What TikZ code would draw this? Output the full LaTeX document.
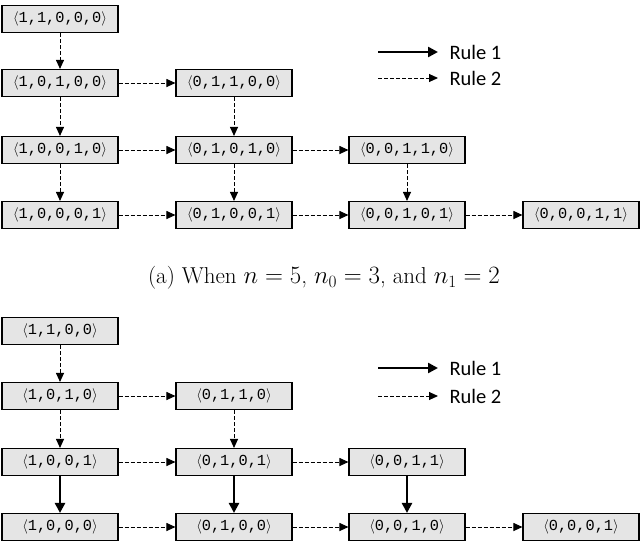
\documentclass[tikz,border=0pt]{standalone}
\usepackage{fontspec}
\newfontfamily\monof{Liberation Mono}
\newfontfamily\legf{Carlito}
\usetikzlibrary{arrows.meta}
\begin{document}
\begin{tikzpicture}[x=1pt,y=-1pt,
 box/.style={draw,line width=1.1pt,fill=gray!20,minimum width=116pt,minimum height=27pt,inner sep=0pt,font=\monof\fontsize{15.3}{17}\selectfont},
 r2/.style={-{Triangle[length=9pt,width=8pt]},dash pattern=on 4pt off 2pt,line width=1pt},
 r1/.style={-{Triangle[length=10pt,width=10pt]},line width=2.4pt},
 leg/.style={font=\legf\fontsize{20.5}{23}\selectfont,anchor=west}]
\useasboundingbox (0,0) rectangle (640,549);
\newcommand{\tp}[1]{$\langle$#1$\rangle$}
% (a)
\node[box] (a1) at (60,19) {\tp{1,1,0,0,0}};
\node[box] (a2) at (60,83) {\tp{1,0,1,0,0}};
\node[box] (a3) at (60,150) {\tp{1,0,0,1,0}};
\node[box] (a4) at (60,215) {\tp{1,0,0,0,1}};
\node[box] (b2) at (234,83) {\tp{0,1,1,0,0}};
\node[box] (b3) at (234,150) {\tp{0,1,0,1,0}};
\node[box] (b4) at (234,215) {\tp{0,1,0,0,1}};
\node[box] (c3) at (407,150) {\tp{0,0,1,1,0}};
\node[box] (c4) at (407,215) {\tp{0,0,1,0,1}};
\node[box] (d4) at (581,215) {\tp{0,0,0,1,1}};
\draw[r2] (a1)--(a2); \draw[r2] (a2)--(a3); \draw[r2] (a3)--(a4);
\draw[r2] (b2)--(b3); \draw[r2] (b3)--(b4); \draw[r2] (c3)--(c4);
\draw[r2] (a2)--(b2); \draw[r2] (a3)--(b3); \draw[r2] (b3)--(c3);
\draw[r2] (a4)--(b4); \draw[r2] (b4)--(c4); \draw[r2] (c4)--(d4);
\coordinate (la1) at (378,52); \coordinate (la1e) at (438,52);
\coordinate (la2) at (378,78); \coordinate (la2e) at (438,78);
\draw[r1] (la1)--(la1e); \draw[r2] (la2)--(la2e);
\node[leg] (ta1) at (446,52) {Rule 1};
\node[leg] (ta2) at (446,78) {Rule 2};
\node[font=\fontsize{23}{26}\selectfont] (capa) at (324,278) {(a) When $n=5$, $n_0=3$, and $n_1=2$};
% (b)
\node[box] (e1) at (60,331) {\tp{1,1,0,0}};
\node[box] (e2) at (60,396) {\tp{1,0,1,0}};
\node[box] (e3) at (60,462) {\tp{1,0,0,1}};
\node[box] (e4) at (60,527) {\tp{1,0,0,0}};
\node[box] (f2) at (234,396) {\tp{0,1,1,0}};
\node[box] (f3) at (234,462) {\tp{0,1,0,1}};
\node[box] (f4) at (234,527) {\tp{0,1,0,0}};
\node[box] (g3) at (407,462) {\tp{0,0,1,1}};
\node[box] (g4) at (407,527) {\tp{0,0,1,0}};
\node[box] (h4) at (581,527) {\tp{0,0,0,1}};
\draw[r2] (e1)--(e2); \draw[r2] (e2)--(e3); \draw[r1] (e3)--(e4);
\draw[r2] (f2)--(f3); \draw[r1] (f3)--(f4); \draw[r1] (g3)--(g4);
\draw[r2] (e2)--(f2); \draw[r2] (e3)--(f3); \draw[r2] (f3)--(g3);
\draw[r2] (e4)--(f4); \draw[r2] (f4)--(g4); \draw[r2] (g4)--(h4);
\coordinate (lb1) at (378,368); \coordinate (lb1e) at (438,368);
\coordinate (lb2) at (378,396); \coordinate (lb2e) at (438,396);
\draw[r1] (lb1)--(lb1e); \draw[r2] (lb2)--(lb2e);
\node[leg] (tb1) at (446,368) {Rule 1};
\node[leg] (tb2) at (446,396) {Rule 2};
\end{tikzpicture}
\end{document}
